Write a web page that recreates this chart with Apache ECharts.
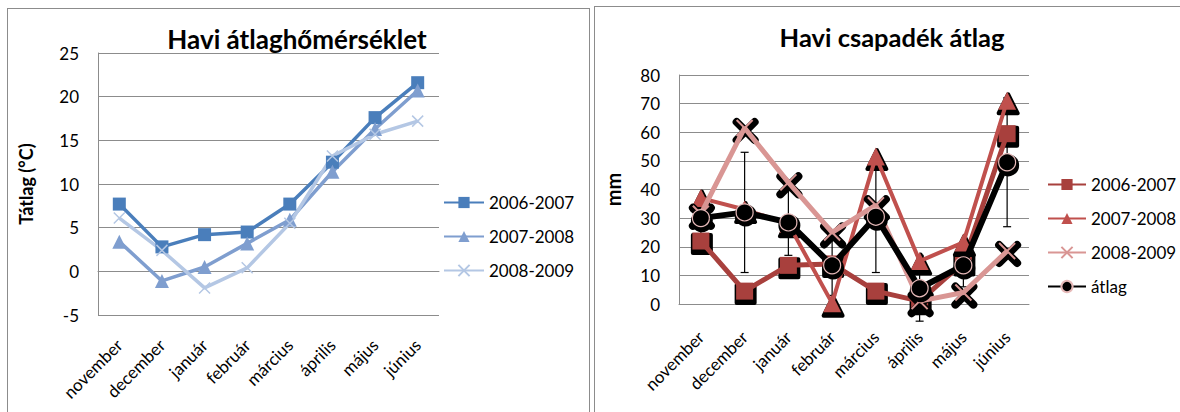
<!DOCTYPE html>
<html>
<head>
<meta charset="utf-8">
<script src="https://cdn.jsdelivr.net/npm/echarts@6/dist/echarts.min.js"></script>
<style>
  html, body { margin: 0; padding: 0; background: #fff; overflow: hidden; }
  .keret { position: absolute; border: 1px solid #8c8c8c; background: #fff; }
  .abra { position: absolute; left: 0; top: 0; width: 1180px; height: 412px; }
</style>
</head>
<body>
<div class="keret" style="left:7px; top:8px; width:581px; height:420px;"></div>
<div class="keret" style="left:594px; top:6px; width:600px; height:420px;"></div>
<div id="homerseklet" class="abra"></div>
<div id="csapadek" class="abra"></div>

<script>
// hónapok
const honapok = ['november', 'december', 'január', 'február', 'március', 'április', 'május', 'június'];

// havi átlaghőmérséklet (°C)
const hom_2006_2007 = [7.7, 2.8, 4.2, 4.5, 7.7, 12.5, 17.6, 21.6];
const hom_2007_2008 = [3.4, -1.1, 0.5, 3.2, 5.9, 11.4, 16.3, 20.7];
const hom_2008_2009 = [6.1, 2.4, -1.9, 0.4, 5.5, 13.2, 15.7, 17.2];

// havi csapadék (mm)
const csap_2006_2007 = [22, 4.5, 13.5, 14, 4.5, 1, 14.5, 59.5];
const csap_2007_2008 = [37, 33, 28, 0.3, 51.5, 15, 21.5, 71];
const csap_2008_2009 = [31.5, 61.5, 42.5, 25, 34.5, 1, 4, 18.5];
const csap_atlag = [30, 32, 28.5, 13.5, 30.5, 5.5, 13.5, 49.5];
// hibasáv (alsó / felső)
const hiba_also = [24, 11, 17, 3, 11, -6, 6, 27];
const hiba_felso = [36, 53, 40, 23, 50, 17, 21, 72];

const betu = 'Lato, "Open Sans", sans-serif';
const xJel = 'path://M0,0L10,10M10,0L0,10';

// ---- bal oldali ábra ----
const kek = ['#4a7ebb', '#7f9ecf', '#b4c7e4'];
const homChart = echarts.init(document.getElementById('homerseklet'), null, { renderer: 'svg' });

function homSor(nev, adat, szin, jel, meret) {
  return {
    name: nev,
    type: 'line',
    data: adat,
    symbol: jel,
    symbolSize: meret,
    color: szin,
    lineStyle: { width: 3.5, color: szin },
    itemStyle: jel === xJel
      ? { color: 'none', borderColor: szin, borderWidth: 1.5 }
      : { color: szin, borderWidth: 0 },
    emphasis: { disabled: true },
    animation: false
  };
}

homChart.setOption({
  animation: false,
  graphic: [{
    type: 'text',
    style: { x: 297, y: 39, text: 'Havi átlaghőmérséklet', fontFamily: betu, fontWeight: 'bold', fontSize: 26, fill: '#000', align: 'center', verticalAlign: 'middle' }
  }],
  grid: { left: 98, right: 741, top: 53, bottom: 97, outerBoundsMode: 'none' },
  legend: {
    orient: 'vertical', left: 443, top: 194, padding: 0,
    itemWidth: 40, itemHeight: 14, itemGap: 17,
    textStyle: { fontFamily: betu, fontSize: 17, color: '#000' },
    data: ['2006-2007', '2007-2008', '2008-2009']
  },
  xAxis: {
    type: 'category', data: honapok, boundaryGap: true,
    axisLine: { lineStyle: { color: '#8c8c8c' } },
    axisTick: { show: false },
    axisLabel: { rotate: 45, margin: 27, fontFamily: betu, fontSize: 17, color: '#000', interval: 0 }
  },
  yAxis: {
    type: 'value', min: -5, max: 25, interval: 5,
    name: 'Tátlag (°C)', nameLocation: 'middle', nameGap: 63,
    nameTextStyle: { fontFamily: betu, fontWeight: 'bold', fontSize: 18, color: '#000' },
    axisLine: { show: true, lineStyle: { color: '#8c8c8c' } },
    axisTick: { show: false },
    splitLine: { lineStyle: { color: '#8c8c8c' } },
    axisLabel: { margin: 19, fontFamily: betu, fontSize: 17, color: '#000' }
  },
  series: [
    homSor('2006-2007', hom_2006_2007, kek[0], 'rect', 13),
    homSor('2007-2008', hom_2007_2008, kek[1], 'triangle', 14),
    homSor('2008-2009', hom_2008_2009, kek[2], xJel, 11)
  ]
});

// ---- jobb oldali ábra ----
const piros = ['#a8403d', '#c0504d', '#d99694', '#000000'];
const csapChart = echarts.init(document.getElementById('csapadek'), null, { renderer: 'svg' });

function csapSor(nev, adat, szin, jel, meret, vastag, z) {
  let stilus;
  if (jel === xJel) stilus = { color: 'none', borderColor: szin, borderWidth: 2 };
  else if (nev === 'átlag') stilus = { color: '#000', borderColor: '#e6b9b8', borderWidth: 1.2 };
  else stilus = { color: szin, borderWidth: 0 };
  return {
    name: nev,
    type: 'line',
    data: adat,
    symbol: jel,
    symbolSize: meret,
    color: szin,
    z: z,
    lineStyle: { width: vastag, color: szin },
    itemStyle: stilus,
    emphasis: { disabled: true },
    animation: false
  };
}

// fekete árnyék a jelölők alatt (Excel árnyékhatás)
function arnyekSor(adat, jel, meret, z) {
  return {
    type: 'line',
    data: adat,
    symbol: jel,
    symbolSize: meret,
    symbolOffset: [1, 3],
    showAllSymbol: true,
    z: z,
    silent: true,
    lineStyle: { width: 0, opacity: 0 },
    itemStyle: jel === xJel
      ? { color: 'none', borderColor: '#000', borderWidth: 8, borderCap: 'round' }
      : { color: '#000', borderColor: '#000', borderWidth: 4, borderJoin: 'round' },
    emphasis: { disabled: true },
    animation: false
  };
}

const hibaAdat = honapok.map((h, i) => [i, hiba_also[i], hiba_felso[i]]);

csapChart.setOption({
  animation: false,
  graphic: [{
    type: 'text',
    style: { x: 892, y: 37, text: 'Havi csapadék átlag', fontFamily: betu, fontWeight: 'bold', fontSize: 25.5, fill: '#000', align: 'center', verticalAlign: 'middle' }
  }],
  grid: { left: 679, right: 151, top: 75, bottom: 108, outerBoundsMode: 'none' },
  legend: {
    orient: 'vertical', left: 1047, top: 176, padding: 0,
    itemWidth: 38, itemHeight: 14, itemGap: 17,
    textStyle: { fontFamily: betu, fontSize: 17, color: '#000' },
    data: ['2006-2007', '2007-2008', '2008-2009', 'átlag']
  },
  xAxis: {
    type: 'category', data: honapok, boundaryGap: true,
    axisLine: { lineStyle: { color: '#8c8c8c' } },
    axisTick: { show: false },
    axisLabel: { rotate: 45, margin: 30, fontFamily: betu, fontSize: 17, color: '#000', interval: 0 }
  },
  yAxis: {
    type: 'value', min: 0, max: 80, interval: 10,
    name: 'mm', nameLocation: 'middle', nameGap: 56,
    nameTextStyle: { fontFamily: betu, fontWeight: 'bold', fontSize: 20, color: '#000' },
    axisLine: { show: true, lineStyle: { color: '#8c8c8c' } },
    axisTick: { show: false },
    splitLine: { lineStyle: { color: '#8c8c8c' } },
    axisLabel: { margin: 19, fontFamily: betu, fontSize: 17, color: '#000' }
  },
  series: [
    {
      type: 'custom',
      name: 'hiba',
      data: hibaAdat,
      z: 1,
      silent: true,
      clip: false,
      renderItem: function (params, api) {
        const also = api.coord([api.value(0), api.value(1)]);
        const felso = api.coord([api.value(0), api.value(2)]);
        const fel = 4;
        return {
          type: 'group',
          children: [
            { type: 'line', shape: { x1: also[0], y1: also[1], x2: felso[0], y2: felso[1] }, style: { stroke: '#000', lineWidth: 1.2 } },
            { type: 'line', shape: { x1: also[0] - fel, y1: also[1], x2: also[0] + fel, y2: also[1] }, style: { stroke: '#000', lineWidth: 1.2 } },
            { type: 'line', shape: { x1: felso[0] - fel, y1: felso[1], x2: felso[0] + fel, y2: felso[1] }, style: { stroke: '#000', lineWidth: 1.2 } }
          ]
        };
      }
    },
    arnyekSor(csap_2006_2007, 'rect', 18, 10),
    csapSor('2006-2007', csap_2006_2007, piros[0], 'rect', 17, 5, 11),
    arnyekSor(csap_2007_2008, 'triangle', 19, 12),
    csapSor('2007-2008', csap_2007_2008, piros[1], 'triangle', 18, 4, 13),
    arnyekSor(csap_2008_2009, xJel, 18, 14),
    csapSor('2008-2009', csap_2008_2009, piros[2], xJel, 16, 5, 15),
    arnyekSor(csap_atlag, 'circle', 18, 16),
    csapSor('átlag', csap_atlag, piros[3], 'circle', 17, 6, 17)
  ]
});
</script>
</body>
</html>
